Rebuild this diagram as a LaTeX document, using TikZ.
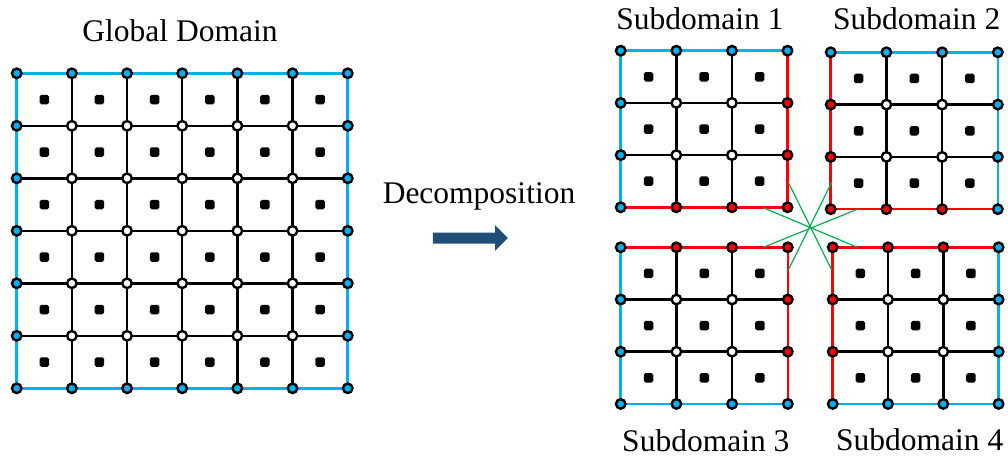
\documentclass[tikz,border=0pt]{standalone}
\usepackage{fontspec}
\setmainfont{Liberation Serif}
\usetikzlibrary{backgrounds,shapes.arrows}
\definecolor{bnd}{RGB}{0,176,240}
\definecolor{itf}{RGB}{255,0,0}
\definecolor{starg}{RGB}{0,176,80}
\definecolor{arrowblue}{RGB}{31,78,121}
\colorlet{nc1}{bnd}\colorlet{nc2}{itf}\colorlet{nc9}{white}
\colorlet{ec1}{bnd}\colorlet{ec2}{itf}\colorlet{ec9}{black}
\tikzset{
  gridpt/.style={circle, draw=black, line width=2.4pt, inner sep=0pt, minimum size=9.5pt},
  cellpt/.style={rectangle, fill=black, rounded corners=1.8pt, inner sep=0pt, minimum size=9.5pt},
  meshline/.style={line width=2.5pt},
  starline/.style={draw=starg, line width=1.2pt},
  label/.style={font=\fontsize{31.5}{38}\selectfont, anchor=base, inner sep=0pt},
}
\newcommand\getsides[4]{\def\sT{#1}\def\sR{#2}\def\sB{#3}\def\sL{#4}}
% #1 name, #2 x0, #3 y0, #4 dx, #5 dy, #6 n, #7 side colours T R B L
\newcommand\meshgrid[7]{%
  \getsides#7%
  \pgfmathtruncatemacro\mlast{#6-1}%
  \foreach \i in {0,...,#6}{
    \foreach \j in {0,...,#6}{
      \pgfmathtruncatemacro\mycol{min(((\j==0)?\sT:9),((\j==#6)?\sB:9),((\i==0)?\sL:9),((\i==#6)?\sR:9))}
      \node[gridpt, fill=nc\mycol] (#1-\i-\j) at ({#2+\i*#4},{#3+\j*#5}) {};
    }
  }
  \foreach \i in {0,...,\mlast}{
    \foreach \j in {0,...,\mlast}{
      \node[cellpt] (#1-c-\i-\j) at ({#2+(\i+0.5)*#4},{#3+(\j+0.5)*#5}) {};
    }
  }
  \begin{scope}[on background layer]
    \foreach \i in {0,...,#6}{
      \foreach \j in {0,...,\mlast}{
        \pgfmathtruncatemacro\jn{\j+1}
        \pgfmathtruncatemacro\vcol{(\i==0)?\sL:((\i==#6)?\sR:9)}
        \draw[meshline, draw=ec\vcol] (#1-\i-\j.center) -- (#1-\i-\jn.center);
        \pgfmathtruncatemacro\hcol{(\i==0)?\sT:((\i==#6)?\sB:9)}
        \draw[meshline, draw=ec\hcol] (#1-\j-\i.center) -- (#1-\jn-\i.center);
      }
    }
  \end{scope}
}
\begin{document}
\begin{tikzpicture}[x=1pt,y=-1pt]
\useasboundingbox (0,0) rectangle (1008,460);
\begin{scope}[on background layer]
  \fill[white] (0,0) rectangle (1008,460);
\end{scope}

% global domain
\meshgrid{g}{16.7}{73.3}{55.17}{52.5}{6}{1111}
% subdomains
\meshgrid{s1}{620.7}{50.7}{55.6}{52.2}{3}{1221}
\meshgrid{s2}{830.7}{52.3}{55.7}{52.3}{3}{1122}
\meshgrid{s3}{620.7}{247.3}{55.7}{52.2}{3}{2211}
\meshgrid{s4}{832.7}{247.3}{55.3}{52.2}{3}{2112}

% labels
\node[label] (tg) at (180,41.7) {Global Domain};
\node[label] (td) at (479,203) {Decomposition};
\node[label] (t1) at (700,30) {Subdomain 1};
\node[label] (t2) at (916.7,30) {Subdomain 2};
\node[label] (t3) at (705.8,451.7) {Subdomain 3};
\node[label] (t4) at (919.7,450.7) {Subdomain 4};

% arrow
\node[single arrow, fill=arrowblue, draw=none, inner xsep=0pt, inner ysep=5.3pt,
      minimum height=75pt, single arrow head extend=7.2pt,
      single arrow head indent=0pt] (arr) at (467.5,238) {};

% green star
\coordinate (a1) at (788.3,182.3); \coordinate (b1) at (831.7,270);
\coordinate (a2) at (831.7,182.3); \coordinate (b2) at (788.3,270);
\coordinate (a3) at (763.3,207.7); \coordinate (b3) at (857.3,247.3);
\coordinate (a4) at (857.3,209.3); \coordinate (b4) at (763.3,247.3);
\draw[starline] (a1) -- (b1);
\draw[starline] (a2) -- (b2);
\draw[starline] (a3) -- (b3);
\draw[starline] (a4) -- (b4);
\end{tikzpicture}
\end{document}
